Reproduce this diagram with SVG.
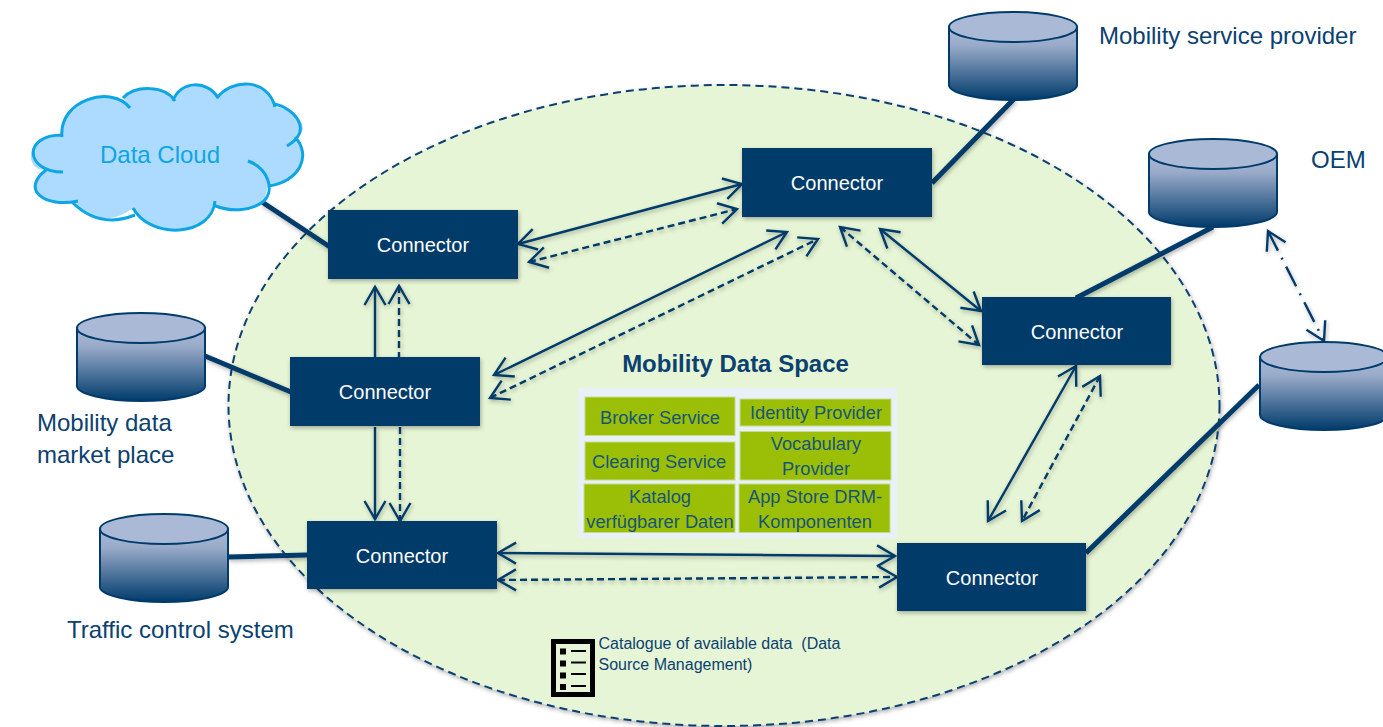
<svg xmlns="http://www.w3.org/2000/svg" width="1383" height="727" viewBox="0 0 1383 727">
<style>
text{font-family:"Liberation Sans",Arial,sans-serif;fill:#0b4170}
.box{fill:#003b6b;filter:url(#sh)}
.ct{fill:#fff;font-size:20px;text-anchor:middle}
.big{font-size:24px}
.cell{fill:#9bbf06;stroke:#c9dc8c;stroke-width:1}
.ctext{font-size:18.300px;text-anchor:middle;fill:#16557a}
.cyl{fill:url(#cg);stroke:#003b6b;stroke-width:2}
.top{fill:#a9b9d6;stroke:#003b6b;stroke-width:2}
.a{fill:none;stroke:#003b6b;stroke-width:2.400;marker-start:url(#h);marker-end:url(#h)}
.d{stroke-dasharray:7 4}
.t{fill:none;stroke:#003b6b;stroke-width:5}
</style>
<defs>
<linearGradient id="cg" x1="0" y1="0" x2="0" y2="1"><stop offset="0" stop-color="#a9b9d6"/><stop offset="0.25" stop-color="#9aabca"/><stop offset="1" stop-color="#003b6b"/></linearGradient>
<filter id="sh" x="-20%" y="-20%" width="140%" height="140%"><feDropShadow dx="1" dy="2" stdDeviation="2" flood-color="#000" flood-opacity="0.3"/></filter>
<marker id="h" markerUnits="userSpaceOnUse" markerWidth="28" markerHeight="28" refX="21" refY="14" orient="auto-start-reverse"><path d="M3 3.500L21 14L3 24.500" fill="none" stroke="#003b6b" stroke-width="2.400"/></marker>
<g id="cylShape"><path class="cyl" d="M0 15V73C0 81 29 88 64 88S128 81 128 73V15Z"/><ellipse class="top" cx="64" cy="15" rx="64" ry="15"/></g>
</defs>
<g id="space"><ellipse cx="724" cy="405.500" rx="495.500" ry="320.500" fill="#e6f5d5" stroke="#0b4170" stroke-width="2" stroke-dasharray="8 5" filter="url(#sh)"/></g>
<g id="connectors">
<g filter="url(#sh)">
<path class="t" d="M262 202L330 247M1014 99L932 183M1213 227L1076 298M1259 385L1086 553M205 356L291 392M228 557L307 555"/>
<path class="a" d="M518 244L742 184"/>
<path class="a d" d="M529 262L737 209"/>
<path class="a" d="M494 375L787 232"/>
<path class="a d" d="M490 398L818 239"/>
<path class="a" d="M880 229L981 311"/>
<path class="a d" d="M840 227L979 345"/>
<path class="a" d="M1076 366L988 521"/>
<path class="a d" d="M1100 376L1022 521"/>
<path class="a" d="M498 553L895 556"/>
<path class="a d" d="M498 580L897 577"/>
<path d="M375 287V357" class="a" style="marker-end:none"/>
<path d="M399 286V357" class="a d" style="marker-end:none"/>
<path d="M375 427V519" class="a" style="marker-start:none"/>
<path d="M400 427V521" class="a d" style="marker-start:none"/>
<path class="a" d="M1268 231L1324 341" stroke-dasharray="22 8 2 8"/>
</g>
</g>
<g id="cloud">
<path fill="#acdbff" d="M62 137C58 100 112 84 130 108L123 98C135 85 165 85 175 101C180 80 208 80 218 98C232 78 268 78 275 107C293 108 315 130 295 137C312 155 300 182 268 186L264 201C250 212 230 212 213 205C212 237 150 240 133 208C110 225 90 220 72 202C45 208 20 190 46 170C25 172 22 135 62 135Z"/>
<path fill="none" stroke="#0ea5e4" stroke-width="3" d="M62 137C58 100 112 84 130 108M123 98C135 85 165 85 175 101M173 101C180 80 208 80 218 98M217 98C232 78 268 78 275 107M275 104C293 108 315 130 287 146M295 137C312 155 300 182 268 186M248 161C268 168 275 190 264 201C250 212 230 212 213 205M215 201C212 237 150 240 133 208M135 215C110 225 90 220 72 202M78 201C45 208 20 190 46 170M63 172C25 172 22 135 62 135"/>
<text x="160" y="163" font-size="24" text-anchor="middle" style="fill:#0ea5e4">Data Cloud</text>
</g>
<g id="cyl-msp"><use href="#cylShape" x="949" y="12"/></g>
<g id="cyl-oem"><use href="#cylShape" x="1149" y="139"/></g>
<g id="cyl-right"><use href="#cylShape" x="1260" y="342"/></g>
<g id="cyl-market"><use href="#cylShape" x="77" y="313"/></g>
<g id="cyl-traffic"><use href="#cylShape" x="100" y="514"/></g>
<g id="conn1"><rect class="box" x="328" y="210" width="190" height="69"/><text class="ct" x="423" y="252">Connector</text></g>
<g id="conn2"><rect class="box" x="742" y="148" width="190" height="69"/><text class="ct" x="837" y="190">Connector</text></g>
<g id="conn3"><rect class="box" x="290" y="357" width="190" height="69"/><text class="ct" x="385" y="399">Connector</text></g>
<g id="conn4"><rect class="box" x="982" y="297" width="189" height="68"/><text class="ct" x="1077" y="339">Connector</text></g>
<g id="conn5"><rect class="box" x="307" y="521" width="190" height="68"/><text class="ct" x="402" y="563">Connector</text></g>
<g id="conn6"><rect class="box" x="897" y="543" width="189" height="68"/><text class="ct" x="992" y="585">Connector</text></g>
<g id="labels">
<text class="big" x="1099" y="44">Mobility service provider</text>
<text class="big" x="1311" y="168">OEM</text>
<text class="big" x="37" y="431">Mobility data</text>
<text class="big" x="37" y="463">market place</text>
<text class="big" x="67" y="638">Traffic control system</text>
<text x="735.500" y="372" font-size="24" font-weight="700" text-anchor="middle">Mobility Data Space</text>
</g>
<g id="services">
<rect x="578" y="388" width="319" height="150" fill="#e9f1f8"/>
<rect class="cell" x="585" y="397" width="150" height="38.500"/><text class="ctext" x="660" y="424">Broker Service</text>
<rect class="cell" x="740" y="399" width="151" height="27"/><text class="ctext" x="816" y="419">Identity Provider</text>
<rect class="cell" x="585" y="442" width="150" height="38"/><text class="ctext" x="659" y="468">Clearing Service</text>
<rect class="cell" x="740" y="431.500" width="151" height="48.500"/><text class="ctext" x="816" y="450">Vocabulary</text><text class="ctext" x="816" y="475">Provider</text>
<rect class="cell" x="584" y="484" width="151" height="48.500"/><text class="ctext" x="660" y="503">Katalog</text><text class="ctext" x="660" y="528">verfügbarer Daten</text>
<rect class="cell" x="739" y="484" width="151" height="48.500"/><text class="ctext" x="815" y="503">App Store DRM-</text><text class="ctext" x="815" y="528">Komponenten</text>
</g>
<g id="catalogue">
<rect x="553.500" y="641.500" width="39" height="53" fill="none" stroke="#000" stroke-width="5"/>
<path d="M560 648.500h6v6h-6zM560 660.500h6v6h-6zM560 672.500h6v6h-6zM560 684h6v6h-6z" fill="#000"/>
<path d="M571 651h15M571 662.500h15M571 674h15M571 686h15" stroke="#000" stroke-width="2.200"/>
<text x="598.500" y="649" font-size="16">Catalogue of available data &#160;(Data</text>
<text x="598.500" y="670" font-size="16">Source Management)</text>
</g>
</svg>
